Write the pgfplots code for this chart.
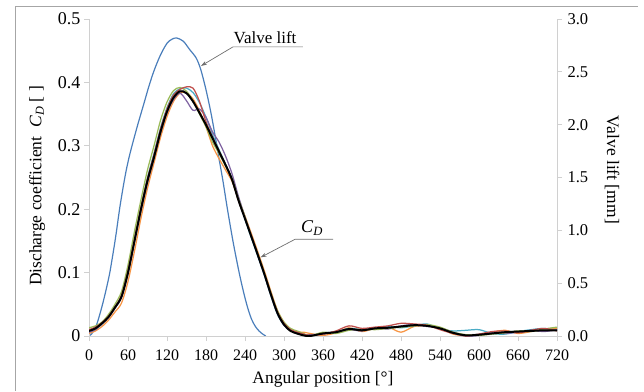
\documentclass[border=0pt]{standalone}
\usepackage{fontspec}
\setmainfont{Liberation Serif}
\usepackage{pgfplots}
\pgfplotsset{compat=1.18}
\usetikzlibrary{arrows.meta}
\definecolor{vlift}{HTML}{4A7EBB}
\definecolor{cred}{HTML}{C0504D}
\definecolor{cgreen}{HTML}{9BBB59}
\definecolor{cpurple}{HTML}{8064A2}
\definecolor{cteal}{HTML}{4BACC6}
\definecolor{corange}{HTML}{F79646}
\definecolor{cgray}{HTML}{B7B7C8}
\definecolor{axgray}{HTML}{D0D0D0}
\definecolor{framegray}{HTML}{A6A6A6}
\definecolor{arrgray}{HTML}{6E6E6E}

\pgfplotstableread{
x black red green purple teal orange gray
0 .008 .010 .013 .006 .007 .004 .009
10 .012 .014 .016 .010 .011 .008 .012
20 .020 .021 .022 .019 .019 .015 .020
30 .030 .031 .034 .029 .030 .025 .031
40 .045 .046 .050 .044 .046 .038 .046
50 .062 .064 .070 .061 .063 .052 .063
60 .100 .103 .112 .098 .102 .086 .101
70 .150 .153 .165 .148 .152 .134 .151
80 .200 .203 .215 .198 .203 .186 .200
90 .245 .248 .262 .242 .250 .233 .246
100 .282 .286 .300 .280 .288 .273 .283
110 .322 .326 .340 .320 .328 .313 .322
120 .354 .358 .369 .352 .360 .346 .355
130 .376 .380 .387 .373 .382 .370 .377
140 .386 .389 .392 .383 .390 .383 .387
150 .383 .393 .386 .371 .391 .384 .384
160 .370 .391 .371 .356 .384 .374 .371
170 .352 .370 .350 .358 .368 .355 .353
180 .333 .338 .330 .345 .345 .330 .334
190 .312 .314 .306 .322 .318 .300 .313
200 .291 .292 .288 .306 .294 .280 .292
210 .270 .270 .268 .284 .271 .262 .271
220 .247 .246 .248 .256 .247 .244 .248
230 .214 .213 .216 .220 .214 .216 .215
240 .185 .186 .188 .188 .184 .189 .186
250 .156 .158 .158 .157 .154 .161 .157
260 .127 .128 .129 .126 .125 .132 .128
270 .097 .098 .099 .096 .095 .102 .098
280 .065 .067 .068 .064 .063 .070 .066
290 .036 .038 .040 .035 .034 .040 .037
300 .018 .020 .022 .017 .017 .021 .019
310 .008 .010 .012 .009 .009 .010 .009
320 .004 .006 .008 .004 .005 .006 .005
330 .001 .003 .004 .001 .002 .006 .002
340 .000 .001 .000 .002 .000 .004 .000
360 .004 .003 .006 .003 .005 .001 .004
380 .006 .008 .004 .007 .006 .005 .007
400 .011 .016 .009 .010 .012 .013 .010
420 .009 .012 .011 .008 .010 .007 .010
440 .012 .014 .010 .013 .011 .012 .012
460 .013 .016 .012 .011 .015 .014 .012
480 .015 .020 .014 .016 .013 .006 .015
500 .017 .019 .016 .018 .016 .015 .017
520 .016 .017 .018 .015 .019 .016 .016
540 .012 .010 .014 .013 .011 .013 .012
560 .005 .004 .006 .006 .008 .003 .006
580 .001 .000 .002 .000 .009 .001 .002
600 .002 .003 .001 .001 .010 .002 .003
620 .004 .007 .003 .005 .004 .006 .004
640 .006 .008 .005 .004 .003 .009 .006
660 .007 .005 .008 .006 .007 .004 .008
680 .008 .009 .007 .009 .010 .007 .008
700 .009 .012 .011 .007 .012 .011 .009
720 .009 .008 .014 .010 .009 .012 .010
}\cdtable

\pgfplotstableread{
x lift
0 0
4 0.02
10 0.08
14 0.15
20 0.28
26 0.43
32 0.60
38 0.82
42 0.98
47 1.20
52 1.39
57 1.56
62 1.70
67 1.82
75 2.00
84 2.19
92 2.36
100 2.51
110 2.66
120 2.77
128 2.81
135 2.82
145 2.79
155 2.71
165 2.63
172 2.52
180 2.33
188 2.10
195 1.86
200 1.68
206 1.47
213 1.20
222 0.88
231 0.60
238 0.41
244 0.27
250 0.16
256 0.09
262 0.045
268 0.015
272 0
}\lifttable

\begin{document}
\begin{tikzpicture}
% valve lift axis (right)
\begin{axis}[
  at={(89pt,55pt)}, anchor=origin, scale only axis,
  width=468pt, height=317pt,
  xmin=0, xmax=720, ymin=0, ymax=3,
  axis x line=none, axis y line*=right,
  axis line style={axgray, line width=0.8pt},
  tick align=outside, major tick length=5pt,
  tick style={axgray, line width=0.8pt},
  ytick={0,0.5,1,1.5,2,2.5,3},
  /pgf/number format/assume math mode=true,
  yticklabel style={/pgf/number format/fixed, /pgf/number format/fixed zerofill, /pgf/number format/precision=1, font=\fontsize{16.5}{19}\selectfont, xshift=2pt},
  ylabel={Valve lift [mm]},
  every axis y label/.style={at={(axis description cs:1.1175,0.524)}, rotate=-90, anchor=center, font=\fontsize{17.5}{20}\selectfont},
]
\addplot[vlift, line width=1.2pt, smooth] table[x=x, y=lift] {\lifttable};
\end{axis}

% discharge coefficient axis (left)
\begin{axis}[
  at={(89pt,55pt)}, anchor=origin, scale only axis,
  width=468pt, height=317pt,
  xmin=0, xmax=720, ymin=0, ymax=0.5,
  axis lines*=left,
  axis line style={axgray, line width=0.8pt},
  tick align=outside, major tick length=5pt,
  tick style={axgray, line width=0.8pt},
  xtick={0,60,...,720},
  ytick={0,0.1,0.2,0.3,0.4,0.5},
  /pgf/number format/assume math mode=true,
  yticklabel style={/pgf/number format/fixed, /pgf/number format/precision=1, font=\fontsize{18}{21}\selectfont},
  xticklabel style={font=\fontsize{16}{19}\selectfont, yshift=-5pt},
  xlabel={Angular position [°]},
  every axis x label/.style={at={(axis description cs:0.5,-0.136)}, anchor=center, font=\fontsize{17.5}{20}\selectfont},
  ylabel={Discharge coefficient\ \ \textit{C}\textsubscript{\textit{D}} [ ]},
  every axis y label/.style={at={(axis description cs:-0.111,0.473)}, rotate=90, anchor=center, font=\fontsize{17.5}{20}\selectfont},
  every axis plot/.append style={smooth, line width=1.25pt},
]
\addplot[cgray] table[x=x, y=gray] {\cdtable};
\addplot[corange] table[x=x, y=orange] {\cdtable};
\addplot[cteal] table[x=x, y=teal] {\cdtable};
\addplot[cpurple] table[x=x, y=purple] {\cdtable};
\addplot[cgreen] table[x=x, y=green] {\cdtable};
\addplot[cred] table[x=x, y=red] {\cdtable};
\addplot[black, line width=2pt] table[x=x, y=black] {\cdtable};

\draw[arrgray, line width=0.7pt, -{Stealth[length=6pt, width=4pt]}] (axis cs:329,0.456) -- (axis cs:221.5,0.456) -- (axis cs:172.3,0.426);
\node[anchor=base, inner sep=0pt, font=\fontsize{17}{20}\selectfont] at (axis cs:270.8,0.461) {Valve lift};
\draw[arrgray, line width=0.7pt, -{Stealth[length=6pt, width=4pt]}] (axis cs:375.4,0.1525) -- (axis cs:316.9,0.1525) -- (axis cs:264,0.124);
\node[anchor=base west, inner sep=0pt, font=\fontsize{18}{20}\selectfont] at (axis cs:326,0.1625) {\textit{C}\textsubscript{\textit{D}}};
\end{axis}
\draw[framegray, line width=0.8pt] (15pt,0pt) -- (15pt,385pt) -- (638pt,385pt);
\pgfresetboundingbox
\path[use as bounding box] (0pt,0pt) rectangle (644pt,391pt);
\end{tikzpicture}
\end{document}
